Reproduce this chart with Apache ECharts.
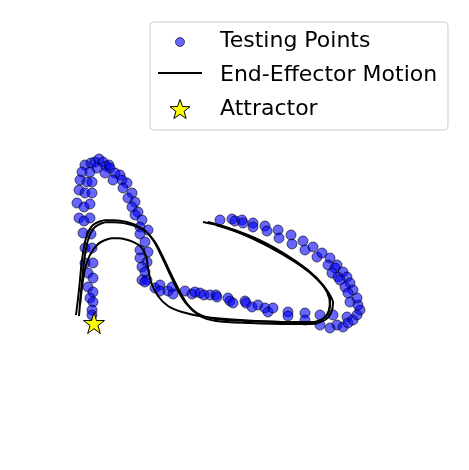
<!DOCTYPE html>
<html>
<head>
    <meta charset="utf-8"/>
    <style>
        html, body {
            height: 100%;
            margin: 0;
            padding: 0;
            background: #fff;
        }

        .container {
            width: 469px;
            height: 470px;
        }
    </style>
</head>
<body>
<div id="main" class="container"></div>
<script src="https://cdn.jsdelivr.net/npm/echarts@6/dist/echarts.min.js"></script>
<script type="text/javascript">
// plot units, x to the right, y downwards (axes are hidden)
var testingPoints = [
    [85,165],[91,163],[95,162],[99,159],[103,162],[106,166],[109,165],[110,168],[115,173],[120,175],
    [122,180],[127,183],[123,188],[132,193],[128,198],[135,202],[132,207],[138,212],[135,215],[142,220],
    [140,227],[148,230],[82,172],[90,172],[97,168],[105,173],[113,180],
    [80,180],[87,182],[92,182],[79,190],[85,193],[92,193],[77,203],[84,207],[90,204],[79,218],[84,221],
    [90,218],[83,233],[91,234],[85,248],[92,248],[85,263],[93,263],[88,273],[93,278],[88,287],[93,292],
    [90,298],[93,302],[92,310],[92,315],
    [140,234],[145,242],[140,250],[148,252],[140,258],[147,262],[142,267],[145,272],[142,280],[147,280],[145,282],
    [155,288],[160,285],[160,291],[168,291],[172,287],[173,294],[185,291],[192,294],[195,292],[200,293],
    [204,295],[210,295],[216,295],[217,297],[228,298],[230,301],[233,303],[245,301],[246,303],[252,307],
    [258,305],[265,308],[268,312],[273,308],[288,312],[288,316],[305,313],[305,320],[320,315],[320,325],
    [330,328],[333,315],[337,325],[343,327],[347,317],[348,323],[353,320],[357,315],[360,310],[358,305],
    [350,302],[357,298],
    [220,220],[232,219],[235,221],[242,220],[243,223],[253,223],[253,227],[265,226],[267,231],[278,230],
    [279,238],[291,235],[292,244],[303,241],[305,250],[313,247],[317,257],[322,253],[330,258],[328,265],
    [337,265],[335,268],[343,272],[332,273],[338,277],[347,277],[340,280],[350,283],[345,287],[353,290],
    [348,293]
];

var motionA = [
    [203,222],[225,227],[255,238],[285,254],[308,270],[323,285],[330,298],[329,310],[323,319],[310,322],
    [290,322],[250,321],[215,319],[197,313],[185,302],[176,287],[168,270],[160,253],[153,240],[143,229],
    [127,222],[107,220],[93,225],[86,238],[82,260],[79,290],[76,315]
];
var motionB = [
    [216,225],[240,233],[268,246],[295,262],[315,277],[328,292],[333,303],[331,313],[325,320],[312,324],
    [290,324],[250,323],[216,321],[200,316],[188,305],[179,290],[170,272],[162,255],[155,242],[145,231],
    [128,224],[108,222],[95,227],[88,240],[84,262],[81,292],[79,316]
];
var motionC = [
    [208,222],[228,228],[252,238],[277,251],[300,265],[317,279],[327,292],[330,305],[326,316],[315,322],
    [290,322],[240,320],[205,317],[182,312],[168,306],[158,296],[151,282],[148,268],[146,256],[140,246],
    [128,240],[115,238],[101,242],[93,250],[87,262],[83,280],[80,305]
];
var attractor = [[94,323]];

var legendNames = ['Testing Points', 'End-Effector Motion', 'Attractor'];

var pointFill = 'rgba(0,0,255,0.6)';
var pointEdge = 'rgba(0,0,0,0.6)';
var starPath = 'M50,0 L61,35 L98,35 L68,57 L79,91 L50,70 L21,91 L32,57 L2,35 L39,35 Z';

// star outline for the legend key
function starPoints(cx, cy, ro, ri) {
    var pts = [];
    for (var i = 0; i < 10; i++) {
        var r = i % 2 === 0 ? ro : ri;
        var a = -Math.PI / 2 + i * Math.PI / 5;
        pts.push([cx + r * Math.cos(a), cy + r * Math.sin(a)]);
    }
    return pts;
}

var myChart = echarts.init(document.getElementById('main'));

var lineStyle = { color: '#000', width: 2 };
function label(text, y) {
    return {
        type: 'text', z: 11, x: 220, y: y,
        style: { text: text, fontFamily: 'DejaVu Sans', fontSize: 22, fill: '#000', verticalAlign: 'middle' }
    };
}

// legend box drawn by hand (matplotlib style)
var legendGraphic = [
    {
        type: 'rect', z: 10,
        shape: { x: 150, y: 22, width: 298, height: 108, r: 4 },
        style: { fill: 'rgba(255,255,255,0.8)', stroke: '#cccccc', lineWidth: 1 }
    },
    {
        type: 'circle', z: 11,
        shape: { cx: 180, cy: 42, r: 4.5 },
        style: { fill: pointFill, stroke: pointEdge, lineWidth: 1 }
    },
    {
        type: 'line', z: 11,
        shape: { x1: 158, y1: 73, x2: 202, y2: 73 },
        style: { stroke: '#000', lineWidth: 2 }
    },
    {
        type: 'polygon', z: 11,
        shape: { points: starPoints(180, 110, 10.5, 4.3) },
        style: { fill: '#ffff00', stroke: '#000', lineWidth: 1 }
    },
    label(legendNames[0], 41),
    label(legendNames[1], 75),
    label(legendNames[2], 109)
];

var option = {
    animation: false,
    backgroundColor: '#fff',
    grid: { left: 0, right: 0, top: 0, bottom: 0 },
    xAxis: { type: 'value', min: 0, max: 469, show: false },
    yAxis: { type: 'value', min: 0, max: 470, inverse: true, show: false },
    graphic: legendGraphic,
    series: [
        {
            name: legendNames[0],
            type: 'scatter',
            data: testingPoints,
            symbolSize: 10,
            z: 2,
            itemStyle: { color: pointFill, borderColor: pointEdge, borderWidth: 1, opacity: 1 }
        },
        { name: legendNames[1], type: 'line', data: motionA, symbol: 'none', smooth: 0.3, z: 3, lineStyle: lineStyle },
        { name: legendNames[1], type: 'line', data: motionB, symbol: 'none', smooth: 0.3, z: 3, lineStyle: lineStyle },
        { name: legendNames[1], type: 'line', data: motionC, symbol: 'none', smooth: 0.3, z: 3, lineStyle: lineStyle },
        {
            name: legendNames[2],
            type: 'scatter',
            data: attractor,
            symbol: 'path://' + starPath,
            symbolSize: 21,
            z: 4,
            itemStyle: { color: '#ffff00', borderColor: '#000', borderWidth: 1, opacity: 1 }
        }
    ]
};

myChart.setOption(option);
</script>
</body>
</html>
